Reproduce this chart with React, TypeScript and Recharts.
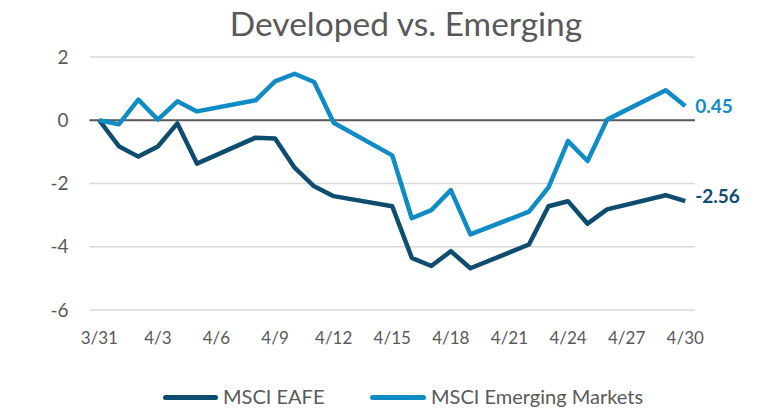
import React from 'react';
import { LineChart, Line, XAxis, YAxis, CartesianGrid, ReferenceLine } from 'recharts';

// trading days only; weekends are bridged by straight lines
const dates = [
  '3/31', '4/1', '4/2', '4/3', '4/4', '4/5', '4/8', '4/9', '4/10', '4/11', '4/12',
  '4/15', '4/16', '4/17', '4/18', '4/19', '4/22', '4/23', '4/24', '4/25', '4/26', '4/29', '4/30',
];
const eafe = [
  0, -0.82, -1.15, -0.83, -0.1, -1.37, -0.55, -0.58, -1.5, -2.09, -2.4,
  -2.72, -4.35, -4.61, -4.14, -4.68, -3.93, -2.72, -2.56, -3.27, -2.82, -2.37, -2.56,
];
const emerging = [
  0, -0.13, 0.65, 0.02, 0.6, 0.28, 0.63, 1.23, 1.47, 1.21, -0.08,
  -1.11, -3.1, -2.84, -2.21, -3.61, -2.89, -2.12, -0.66, -1.29, 0.02, 0.95, 0.45,
];
const tickLabels = ['3/31', '4/3', '4/6', '4/9', '4/12', '4/15', '4/18', '4/21', '4/24', '4/27', '4/30'];
const yTicks = [-6, -4, -2, 0, 2];

const DARK = '#0e4d6f';
const LIGHT = '#0f8bc6';
const TEXT = '#595959';
const FONT = 'Lato, "Open Sans", sans-serif';

// day offset from 3/31
const dayOf = (d: string) => {
  const [m, day] = d.split('/').map(Number);
  return m === 3 ? day - 31 : day;
};

const data = dates.map((d, i) => ({ day: dayOf(d), label: d, eafe: eafe[i], em: emerging[i] }));
const ticks = tickLabels.map(dayOf);
const labelFor = (v: number) => tickLabels[ticks.indexOf(v)] ?? '';

const endLabel = (color: string, dy: number) => (props: any) => {
  const { x, y, index, value } = props;
  if (index !== data.length - 1) return null;
  return (
    <text x={x + 10} y={y + dy} fill={color} fontSize={19} fontWeight={700} fontFamily={FONT}>
      {value.toFixed(2)}
    </text>
  );
};

const LegendItem = ({ color, text, left, width }: any) => (
  <div style={{ position: 'absolute', left, top: 386, display: 'flex', alignItems: 'center' }}>
    <div style={{ width, flexShrink: 0, height: 5, borderRadius: 3, background: color, marginRight: 5, marginTop: 2 }} />
    <span style={{ fontSize: 20, lineHeight: '20px', color: TEXT, fontFamily: FONT, whiteSpace: 'nowrap' }}>{text}</span>
  </div>
);

export default function App() {
  return (
    <div style={{ position: 'absolute', left: 0, top: 0, width: 762, height: 409, background: '#fff', overflow: 'hidden' }}>
      <div
        style={{
          position: 'absolute', left: 406, top: 7, transform: 'translateX(-50%)', whiteSpace: 'nowrap',
          fontSize: 33.5, lineHeight: '33.5px', color: TEXT, fontFamily: FONT,
        }}
      >
        Developed vs. Emerging
      </div>
      <LineChart width={762} height={409} data={data} margin={{ top: 57, right: 67, left: 0, bottom: 59 }}>
        <CartesianGrid vertical={false} stroke="#d9d9d9" strokeWidth={1.5} />
        <XAxis
          dataKey="day"
          type="number"
          domain={[-0.5, 30.5]}
          ticks={ticks}
          tickFormatter={labelFor}
          axisLine={false}
          tickLine={false}
          tickSize={0}
          tickMargin={22}
          height={40}
          interval={0}
          tick={{ fill: TEXT, fontSize: 17, fontFamily: FONT }}
        />
        <YAxis
          domain={[-6, 2]}
          ticks={yTicks}
          axisLine={false}
          tickLine={false}
          tickSize={0}
          tickMargin={21}
          width={89.5}
          tick={{ fill: TEXT, fontSize: 19, fontFamily: FONT }}
        />
        <ReferenceLine y={0} stroke={TEXT} strokeWidth={2} />
        <Line
          dataKey="eafe"
          stroke={DARK}
          strokeWidth={4.5}
          strokeLinejoin="round"
          dot={false}
          isAnimationActive={false}
          label={endLabel(DARK, 2)}
        />
        <Line
          dataKey="em"
          stroke={LIGHT}
          strokeWidth={4.5}
          strokeLinejoin="round"
          dot={false}
          isAnimationActive={false}
          label={endLabel(LIGHT, 7)}
        />
      </LineChart>
      <LegendItem color={DARK} text="MSCI EAFE" left={163} width={55} />
      <LegendItem color={LIGHT} text="MSCI Emerging Markets" left={370} width={56} />
    </div>
  );
}
